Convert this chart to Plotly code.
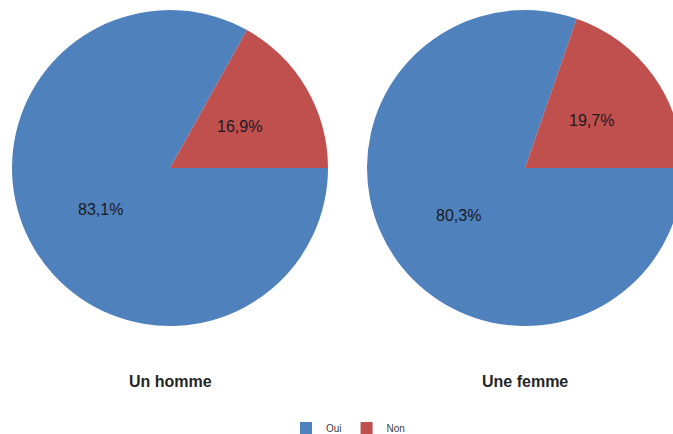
import math
import plotly.graph_objects as go

labels = ["Oui", "Non"]
homme = [83.1, 16.9]
femme = [80.3, 19.7]
titles = ["Un homme", "Une femme"]
colors = ["#4F81BD", "#C0504D"]

W, H = 683, 434

def txt(v):
    return ("%.1f%%" % v).replace(".", ",")

def fy(p):
    return 1 - p / H

fig = go.Figure()
centers = [(170, 168), (525, 168)]
R = 158
for vals, (cx, cy), name in zip([homme, femme], centers, titles):
    dom = dict(x=[(cx - R) / W, min(1.0, (cx + R) / W)], y=[fy(cy + R), fy(cy - R)])
    fig.add_trace(go.Pie(
        labels=labels, values=vals, domain=dom, sort=False,
        direction="clockwise", rotation=90,
        marker=dict(colors=colors, line=dict(width=0)),
        textinfo="none",
        hoverinfo="label+percent", name=name, showlegend=(name == titles[0]),
    ))
    # slice labels at the bisector of each slice
    total = sum(vals)
    start = 0.0  # degrees, clockwise from 3 o'clock
    for v in vals:
        span = 360.0 * v / total
        mid = start + span / 2
        ang = math.radians(-mid)
        lx = cx + 0.513 * R * math.cos(ang)
        ly = cy - 0.513 * R * math.sin(ang)
        fig.add_annotation(text=txt(v), x=lx / W, y=fy(ly), xref="paper", yref="paper",
                           xanchor="center", yanchor="middle", showarrow=False,
                           font=dict(family="Liberation Sans, Arial", size=16, color="#1a1a24"))
        start += span
    fig.add_annotation(text="<b>%s</b>" % name, x=cx / W, y=fy(381),
                       xref="paper", yref="paper", xanchor="center", yanchor="middle",
                       showarrow=False,
                       font=dict(family="Liberation Sans, Arial", size=16, color="#262626"))

fig.update_layout(
    width=W, height=H, margin=dict(l=0, r=0, t=0, b=0, autoexpand=False),
    paper_bgcolor="white", plot_bgcolor="white",
    legend=dict(orientation="h", x=348 / W, xanchor="center", y=fy(428), yanchor="middle",
                font=dict(family="Liberation Sans, Arial", size=10, color="#404040")),
)

fig.write_html("out.html", config={"displayModeBar": False},
               post_script="document.body.style.margin='0';document.body.style.overflow='hidden';document.documentElement.style.overflow='hidden';")
